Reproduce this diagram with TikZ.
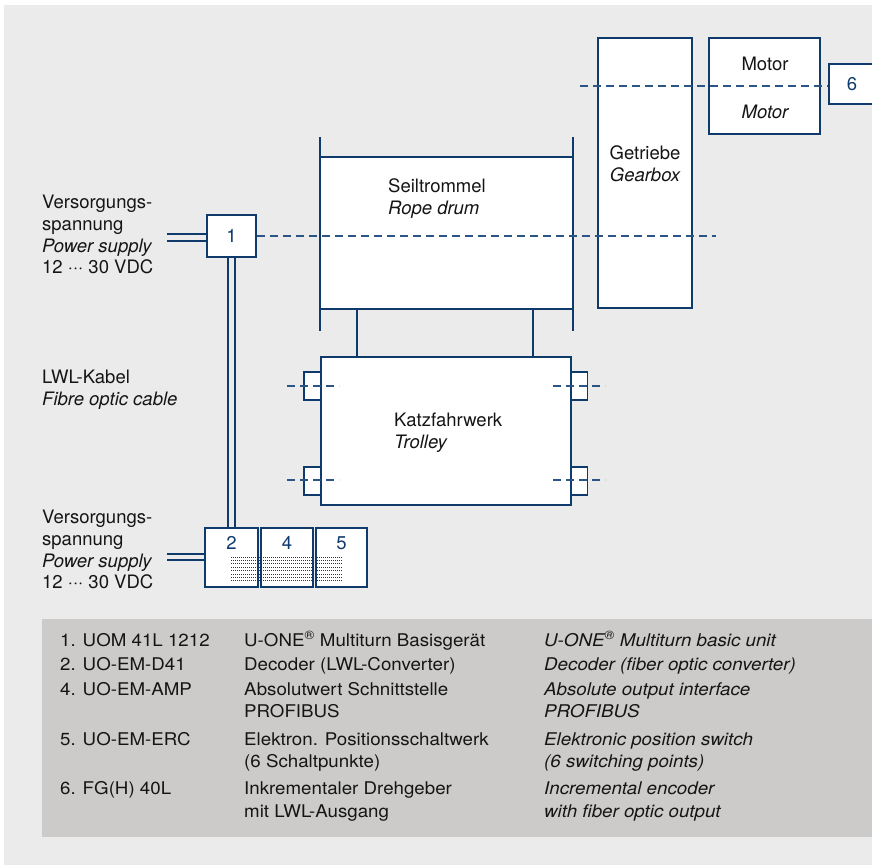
\documentclass[tikz,border=0pt]{standalone}
\usepackage{fontspec}
\setmainfont{TeX Gyre Heros}
\newfontfamily\tabfont{TeX Gyre Heros}[FakeStretch=1.07]
\definecolor{navy}{HTML}{0E3A6C}
\definecolor{dashblue}{HTML}{2B5585}
\definecolor{bggray}{HTML}{EBEBEB}
\definecolor{tabgray}{HTML}{CCCBCA}
\definecolor{txt}{HTML}{151515}
\newcommand{\mdots}{\textperiodcentered\textperiodcentered\textperiodcentered}
\begin{document}
\begin{tikzpicture}[x=1pt,y=-1pt,
  box/.style={draw=navy,line width=2pt,fill=white,inner sep=0pt},
  sidebox/.style={draw=navy,line width=1.8pt,fill=white,inner sep=0pt,minimum width=17pt,minimum height=28pt},
  conn/.style={draw=navy,line width=2pt},
  dline/.style={draw=dashblue,line width=1.5pt,dash pattern=on 8pt off 5pt},
  fibre/.style={draw=navy,line width=2pt,double=bggray,double distance=4.5pt},
  dotrow/.style={draw=navy,line width=1pt,dash pattern=on 0.9pt off 1.1pt},
  lbl/.style={anchor=base west,inner sep=0pt,text=txt,font=\fontsize{18.5}{22}\selectfont},
  lblc/.style={anchor=base,inner sep=0pt,text=txt,font=\fontsize{18.5}{22}\selectfont},
  num/.style={inner sep=0pt,text=navy,font=\fontsize{18.5}{22}\selectfont},
  tab/.style={anchor=base west,inner sep=0pt,text=txt,font=\tabfont\fontsize{17.5}{21}\selectfont},
  tabi/.style={tab,font=\tabfont\fontsize{17.5}{21}\selectfont\itshape}
]
\useasboundingbox (0,0) rectangle (872,865);
\fill[bggray] (4,5) rectangle (872,865);
\fill[tabgray] (42,619) rectangle (872,837);

% gearbox, motor, encoder 6
\node[box,minimum width=94pt,minimum height=270pt] (gear) at (645,173) {};
\node[box,minimum width=111pt,minimum height=96pt] (motor) at (764.5,86) {};
\node[box,minimum width=51pt,minimum height=40pt] (b6) at (854.5,84) {};
\node[num] (n6) at (852,84) {6};

% rope drum
\node[fill=white,inner sep=0pt,minimum width=253pt,minimum height=152pt] (drum) at (446.5,233) {};
\draw[conn] (drum.north west) -- (drum.north east);
\draw[conn] (drum.south west) -- (drum.south east);
\draw[conn] ([yshift=20pt]drum.north west) -- ([yshift=-22pt]drum.south west);
\draw[conn] ([yshift=20pt]drum.north east) -- ([yshift=-22pt]drum.south east);

% trolley with side boxes
\node[sidebox] (slu) at (312.5,386) {};
\node[sidebox] (sll) at (312.5,481) {};
\node[sidebox] (sru) at (579,386) {};
\node[sidebox] (srl) at (579,481) {};
\node[box,minimum width=250pt,minimum height=148pt] (trolley) at (446,431) {};
\coordinate (c1) at (357,0);
\coordinate (c2) at (533,0);
\draw[conn] (c1 |- drum.south) -- (c1 |- trolley.north);
\draw[conn] (c2 |- drum.south) -- (c2 |- trolley.north);

% encoder 1 and modules 2,4,5
\node[box,minimum width=49pt,minimum height=42pt] (b1) at (231.5,236) {};
\node[num] (n1) at (231.5,236) {1};
\node[box,minimum width=53pt,minimum height=59pt] (b2) at (231.5,557.5) {};
\node[box,minimum width=52pt,minimum height=59pt] (b4) at (287,557.5) {};
\node[box,minimum width=51pt,minimum height=59pt] (b5) at (341.5,557.5) {};
\node[num] (n2) at (231.5,543) {2};
\node[num] (n4) at (287,543) {4};
\node[num] (n5) at (341.5,543) {5};
\foreach \yy in {557,560.4,563.8,567.2,570.6,574,577.4,580.8}
  \draw[dotrow] (231,\yy) -- (342,\yy);

% fibre optic cable and supplies
\draw[fibre] (b1.south) -- (b2.north);
\coordinate (ps1) at (167,237.5);
\coordinate (ps2) at (167,557);
\draw[fibre] (ps1) -- (ps1 -| b1.west);
\draw[fibre] (ps2) -- (ps2 -| b2.west);

% dashed shafts
\coordinate (d1e) at (716,0);
\draw[dline] (b1.east) -- (b1.east -| d1e);
\coordinate (d2s) at (580,86);
\draw[dline] (d2s) -- (d2s -| b6.west);
\coordinate (dl1) at (287,386);
\coordinate (dl2) at (287,480);
\coordinate (dr1) at (553,386);
\coordinate (dr2) at (553,480);
\draw[dline] (dl1) -- ++(52,0);
\draw[dline] (dl2) -- ++(52,0);
\draw[dline] (dr1) -- ++(52,0);
\draw[dline] (dr2) -- ++(52,0);

% diagram labels
\node[lbl] (t1) at (42,208) {Versorgungs-};
\node[lbl] (t2) at (42,230) {spannung};
\node[lbl] (t3) at (42,252) {\itshape Power supply};
\node[lbl] (t4) at (42,273) {12 \mdots{} 30 VDC};
\node[lbl] (u1) at (42,523) {Versorgungs-};
\node[lbl] (u2) at (42,545) {spannung};
\node[lbl] (u3) at (42,567) {\itshape Power supply};
\node[lbl] (u4) at (42,588) {12 \mdots{} 30 VDC};
\node[lbl] (k1) at (42,383) {LWL-Kabel};
\node[lbl] (k2) at (42,405) {\itshape Fibre optic cable};
\node[lbl] (s1) at (388,192) {Seiltrommel};
\node[lbl] (s2) at (388,214) {\itshape Rope drum};
\node[lblc] (g1) at (645,159) {Getriebe};
\node[lblc] (g2) at (645,181) {\itshape Gearbox};
\node[lblc] (m1) at (765,70) {Motor};
\node[lblc] (m2) at (765,118) {\itshape Motor};
\node[lbl] (z1) at (394,426) {Katzfahrwerk};
\node[lbl] (z2) at (394,448) {\itshape Trolley};

% table
\node[tab] (a1) at (60,646) {1. UOM 41L 1212};
\node[tab] (a2) at (60,670) {2. UO-EM-D41};
\node[tab] (a3) at (60,695) {4. UO-EM-AMP};
\node[tab] (a4) at (60,745) {5. UO-EM-ERC};
\node[tab] (a5) at (60,794) {6. FG(H) 40L};
\node[tab] (b1t) at (244,646) {U-ONE\textsuperscript{\textregistered} Multiturn Basisgerät};
\node[tab] (b2t) at (244,670) {Decoder (LWL-Converter)};
\node[tab] (b3t) at (244,695) {Absolutwert Schnittstelle};
\node[tab] (b3u) at (244,717) {PROFIBUS};
\node[tab] (b4t) at (244,745) {Elektron. Positionsschaltwerk};
\node[tab] (b4u) at (244,767) {(6 Schaltpunkte)};
\node[tab] (b5t) at (244,794) {Inkrementaler Drehgeber};
\node[tab] (b5u) at (244,817) {mit LWL-Ausgang};
\node[tabi] (c1t) at (544,646) {U-ONE\textsuperscript{\textregistered} Multiturn basic unit};
\node[tabi] (c2t) at (544,670) {Decoder (fiber optic converter)};
\node[tabi] (c3t) at (544,695) {Absolute output interface};
\node[tabi] (c3u) at (544,717) {PROFIBUS};
\node[tabi] (c4t) at (544,745) {Elektronic position switch};
\node[tabi] (c4u) at (544,767) {(6 switching points)};
\node[tabi] (c5t) at (544,794) {Incremental encoder};
\node[tabi] (c5u) at (544,817) {with fiber optic output};
\end{tikzpicture}
\end{document}
